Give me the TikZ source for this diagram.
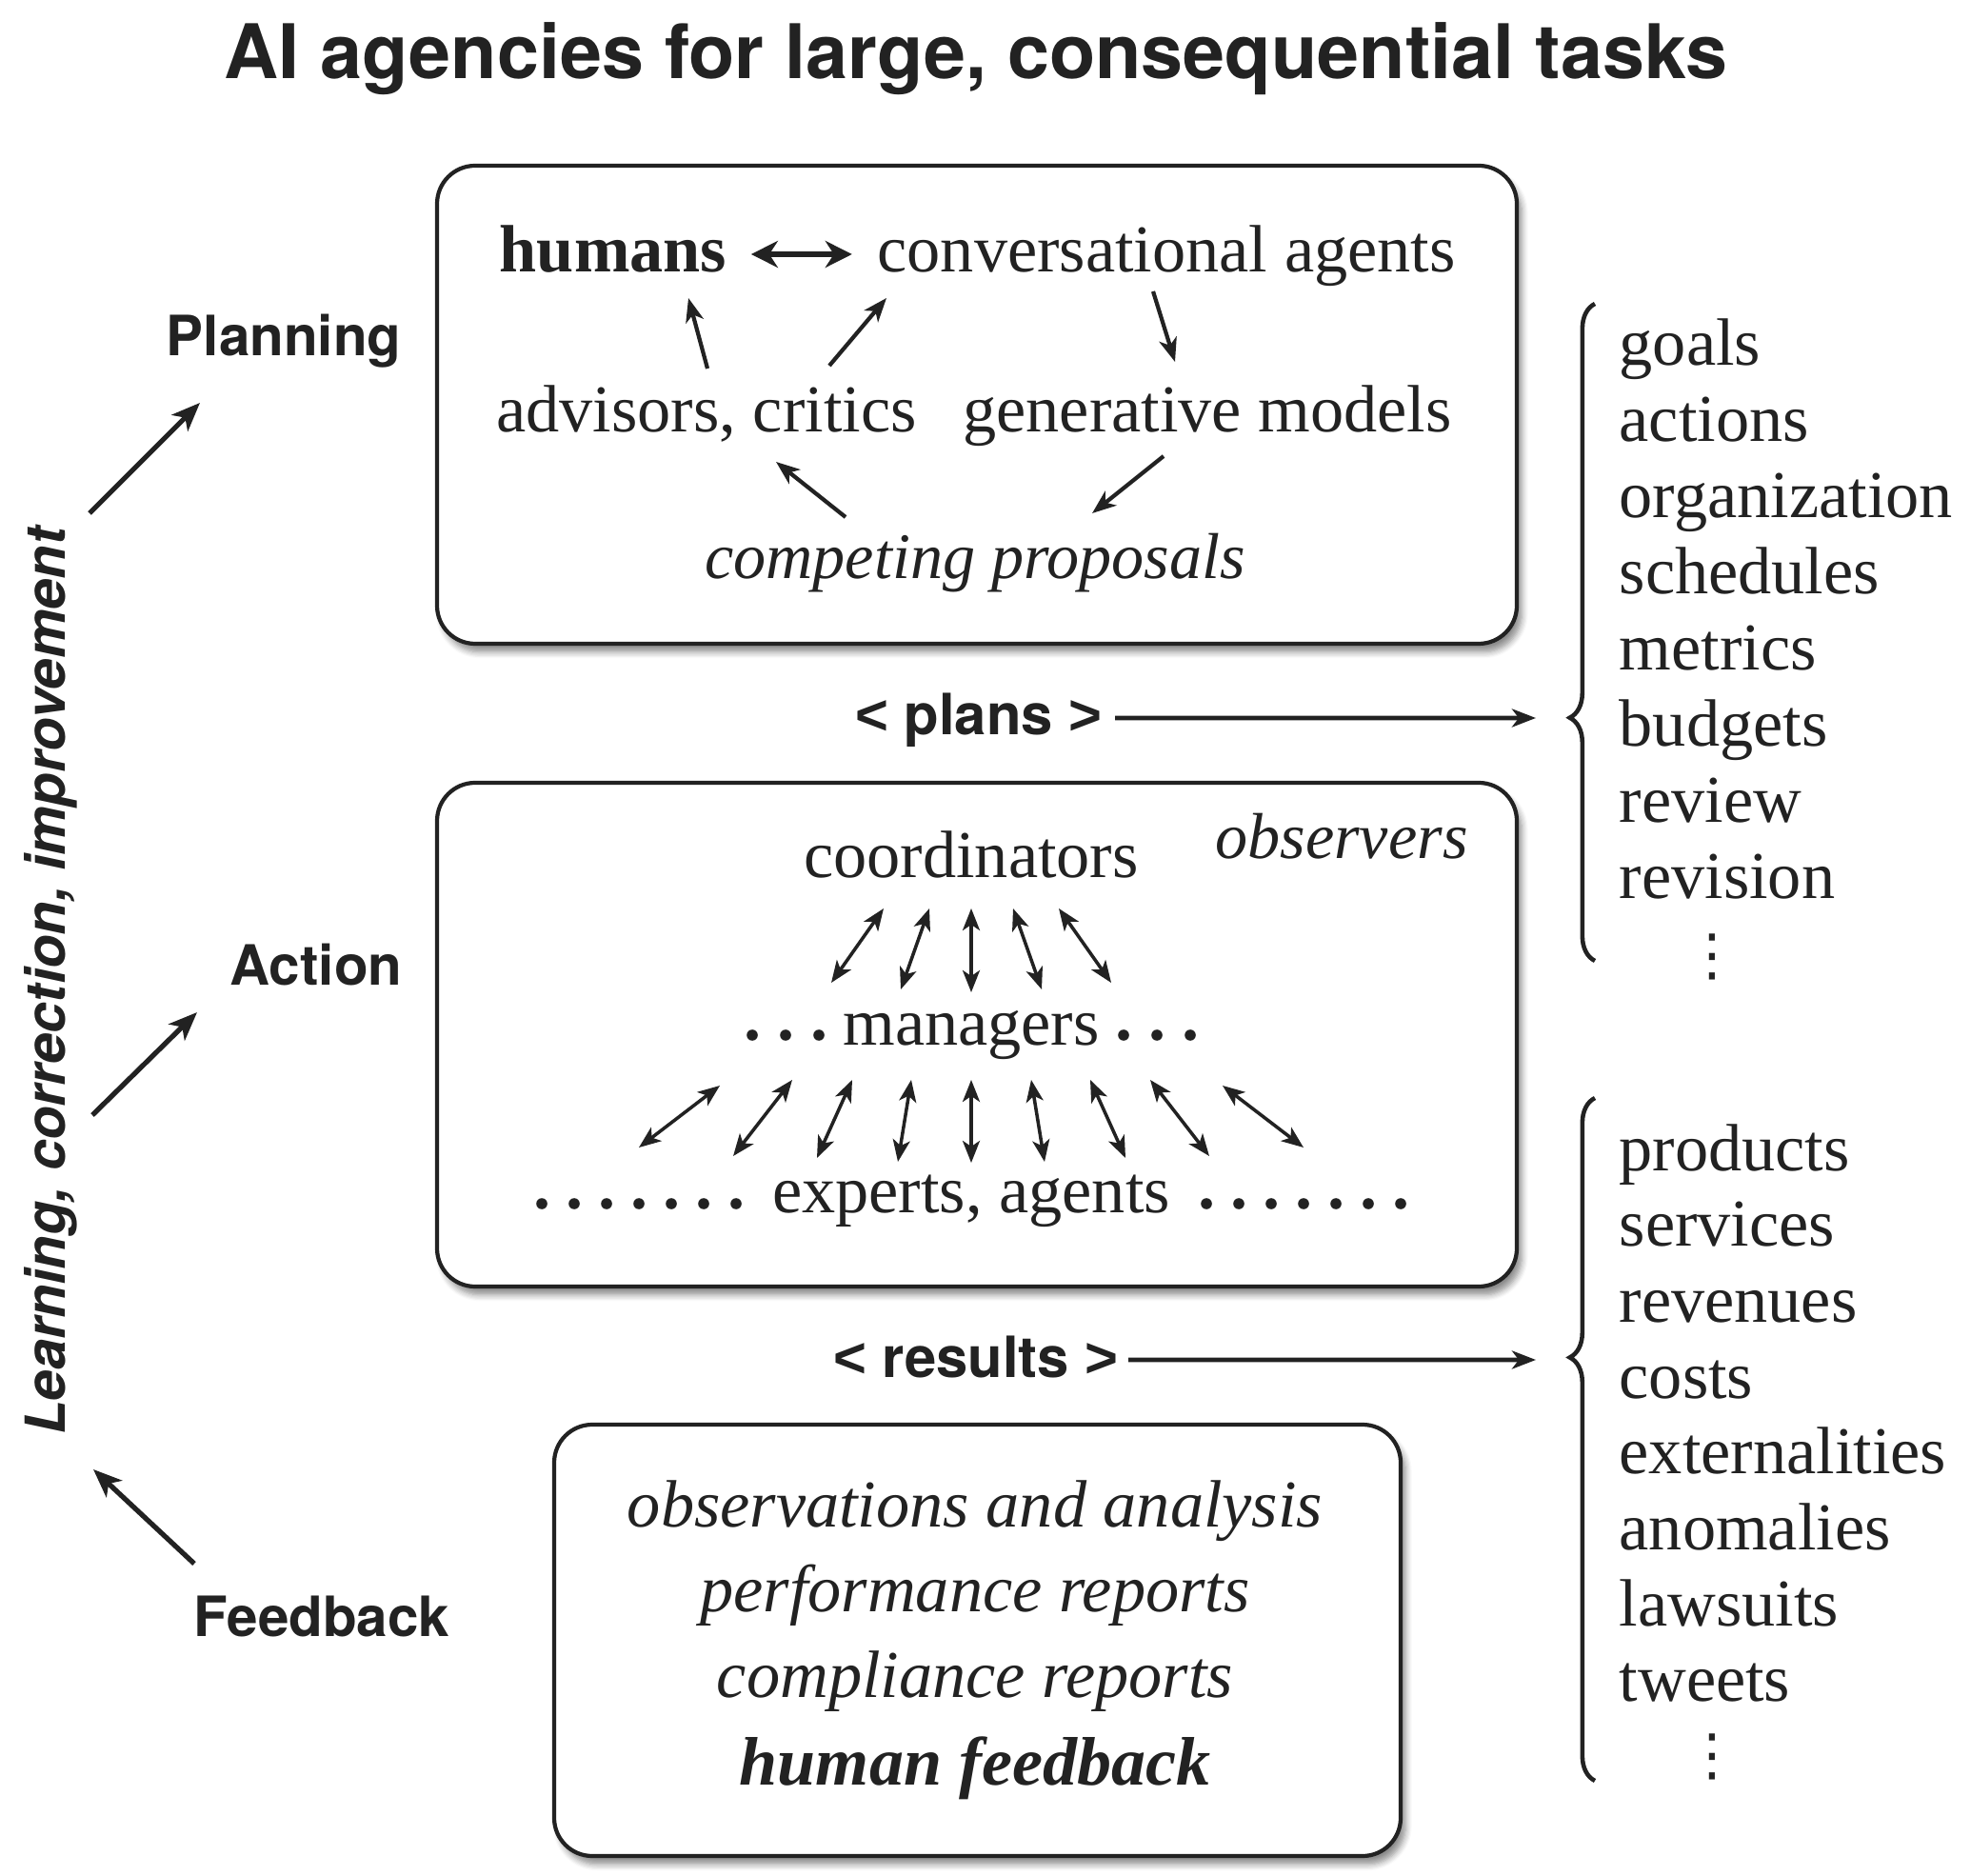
\documentclass[tikz,border=0pt]{standalone}
\usepackage{fontspec}
\setmainfont{Liberation Serif}
\setsansfont{TeX Gyre Heros}
\newfontfamily\brk{Liberation Sans}
\newfontfamily\dvs{DejaVu Sans}
\usetikzlibrary{calc}
\usetikzlibrary{arrows.meta}
\usetikzlibrary{decorations.pathreplacing}
\usetikzlibrary{shadows.blur}
\definecolor{ink}{HTML}{222222}

\begin{document}
\begin{tikzpicture}[x=1cm, y=-1cm,
  txt/.style={inner sep=0, anchor=base, text=ink, font=\fontsize{20}{24}\selectfont},
  ital/.style={txt, font=\fontsize{20}{24}\selectfont\itshape},
  lab/.style={inner sep=0, anchor=base east, text=ink, font=\sffamily\bfseries\fontsize{16.6}{20}\selectfont},
  box/.style={draw=ink, line width=1.2pt, rounded corners=0.4cm, fill=white,
    blur shadow={shadow xshift=1.5pt, shadow yshift=-2.5pt, shadow opacity=45, shadow blur steps=6}},
  arr/.style={draw=ink, line width=1.2pt, -{Stealth[length=2.5mm, width=1.9mm, inset=0.7mm]}},
  bigarr/.style={draw=ink, line width=1.5pt, -{Stealth[length=3mm, width=2.4mm, inset=0.8mm]}},
  big/.style={draw=ink, line width=1.8pt, {Stealth[length=2.8mm, width=2.8mm, inset=0.9mm]}-{Stealth[length=2.8mm, width=2.8mm, inset=0.9mm]}},
  dbl/.style={draw=ink, line width=1pt, {Stealth[length=2.3mm, width=1.8mm, inset=0.6mm]}-{Stealth[length=2.3mm, width=1.8mm, inset=0.6mm]}},
  brc/.style={draw=ink, line width=1.3pt, decorate},
  vd/.style={inner sep=0, anchor=center, text=ink, font=\dvs\fontsize{17}{20}\selectfont}]
\useasboundingbox (0,0) rectangle (20.7,19.7);

\node[inner sep=0, anchor=base, text=ink, font=\sffamily\bfseries\fontsize{22.5}{27}\selectfont] (title) at (10.25,0.83) {AI agencies for large, consequential tasks};

\draw[box] (4.59,1.74) rectangle (15.93,6.76);
\draw[box] (4.59,8.22) rectangle (15.93,13.51);
\draw[box] (5.82,14.96) rectangle (14.71,19.49);

% planning
\node[txt, font=\fontsize{20}{24}\selectfont\bfseries] (hum) at (6.44,2.86) {humans};
\node[txt] (conv) at (12.25,2.86) {conversational agents};
\node[txt] (adv) at (7.42,4.54) {advisors, critics};
\node[txt] (gen) at (12.68,4.54) {generative models};
\node[ital, font=\fontsize{19.4}{24}\selectfont\itshape] (comp) at (10.24,6.08) {competing proposals};
\draw[big] ($(hum.base east)+(0.25,-0.19)$) -- ($(conv.base west)+(-0.26,-0.19)$);
\draw[arr] ($(adv.base)+(0.01,-0.67)$) -- ($(hum.base)+(0.79,0.27)$);
\draw[arr] ($(adv.base)+(1.29,-0.70)$) -- ($(conv.base)+(-2.94,0.27)$);
\draw[arr] ($(conv.base)+(-0.14,0.20)$) -- ($(gen.base)+(-0.34,-0.74)$);
\draw[arr] ($(gen.base)+(-0.46,0.25)$) -- ($(comp.base)+(1.23,-0.69)$);
\draw[arr] ($(comp.base)+(-1.36,-0.65)$) -- ($(adv.base)+(0.73,0.31)$);

% action
\node[txt] (coord) at (10.20,9.22) {coordinators};
\node[ital, font=\fontsize{19.4}{24}\selectfont\itshape] (obs) at (14.09,9.02) {observers};
\node[txt] (mgr) at (10.20,10.98) {managers};
\node[txt] (exp) at (10.20,12.73) {experts, agents};
\foreach \d in {1.60,1.95,2.30} {
 \fill[ink] ($(mgr.base)+(-\d,-0.11)$) circle (0.058);
 \fill[ink] ($(mgr.base)+(\d,-0.11)$) circle (0.058);
}
\foreach \k in {0,...,6} {
 \fill[ink] ($(exp.base)+({-2.47-0.34*\k},-0.09)$) circle (0.058);
 \fill[ink] ($(exp.base)+({2.47+0.34*\k},-0.09)$) circle (0.058);
}
\foreach \t/\b/\e in {-0.92/-1.47/0.66, -0.44/-0.74/0.59, 0/0/0.56, 0.44/0.74/0.59, 0.92/1.47/0.66}
 \draw[dbl] ($(coord.base)+(\t,0.32)$) -- ($(mgr.base)+(\b,-\e)$);
\foreach \t/\b/\u/\l in {-2.64/-3.49/0.42/0.68, -1.88/-2.50/0.36/0.59, -1.25/-1.62/0.36/0.57,
  -0.63/-0.77/0.36/0.53, 0/0/0.36/0.52, 0.63/0.77/0.36/0.53, 1.25/1.62/0.36/0.57,
  1.88/2.50/0.36/0.59, 2.64/3.49/0.42/0.68}
 \draw[dbl] ($(mgr.base)+(\t,\u)$) -- ($(exp.base)+(\b,-\l)$);

% feedback
\node[ital] (obsv) at (10.24,16.03) {observations and analysis};
\node[ital] (perf) at (10.24,16.92) {performance reports};
\node[ital] (compl) at (10.24,17.82) {compliance reports};
\node[txt, font=\fontsize{20.5}{24}\selectfont\bfseries\itshape] (hfb) at (10.24,18.74) {human feedback};

% outputs
\node[lab, font=\sffamily\bfseries\fontsize{17}{20}\selectfont] (plans) at (11.58,7.72) {{\brk<} plans {\brk>}};
\node[lab, font=\sffamily\bfseries\fontsize{17}{20}\selectfont] (results) at (11.75,14.46) {{\brk<} results {\brk>}};
\coordinate (pb) at (16.13,7.54);
\coordinate (rb) at (16.13,14.28);
\draw[arr, line width=1.4pt] ($(plans.base east)+(0.13,-0.18)$) -- (pb);
\draw[arr, line width=1.4pt] ($(results.base east)+(0.10,-0.18)$) -- (rb);
\draw[brc, decoration={brace, amplitude=7.5pt, aspect=0.37}] (16.75,10.09) -- (16.75,3.19);
\draw[brc, decoration={brace, amplitude=7.5pt, aspect=0.62}] (16.75,18.70) -- (16.75,11.53);
\foreach \w [count=\i] in {goals,actions,organization,schedules,metrics,budgets,review,revision}
 \node[txt, anchor=base west] (pl\i) at (17.0,{3.84+0.8*(\i-1)}) {\w};
\node[vd] (pldots) at (17.98,10.05) {⋮};
\foreach \w [count=\i] in {products,services,revenues,costs,externalities,anomalies,lawsuits,tweets}
 \node[txt, anchor=base west] (rs\i) at (17.0,{12.29+0.797*(\i-1)}) {\w};
\node[vd] (rsdots) at (17.98,18.45) {⋮};

% left side
\node[lab] (planL) at (4.22,3.74) {Planning};
\node[lab] (actL) at (4.23,10.35) {Action};
\node[lab] (fbL) at (4.73,17.18) {Feedback};
\node[inner sep=0, anchor=base, rotate=90, text=ink, font=\sffamily\bfseries\itshape\fontsize{16.5}{20}\selectfont] (learn) at (0.68,10.30) {Learning, correction, improvement};
\draw[bigarr] ($(learn.base)+(0.26,-4.91)$) -- ($(planL.base east)+(-2.12,0.49)$);
\draw[bigarr] ($(learn.base)+(0.29,1.41)$) -- ($(actL.base east)+(-2.16,0.28)$);
\draw[bigarr] ($(fbL.base east)+(-2.69,-0.76)$) -- ($(learn.base)+(0.30,5.13)$);
\end{tikzpicture}
\end{document}
